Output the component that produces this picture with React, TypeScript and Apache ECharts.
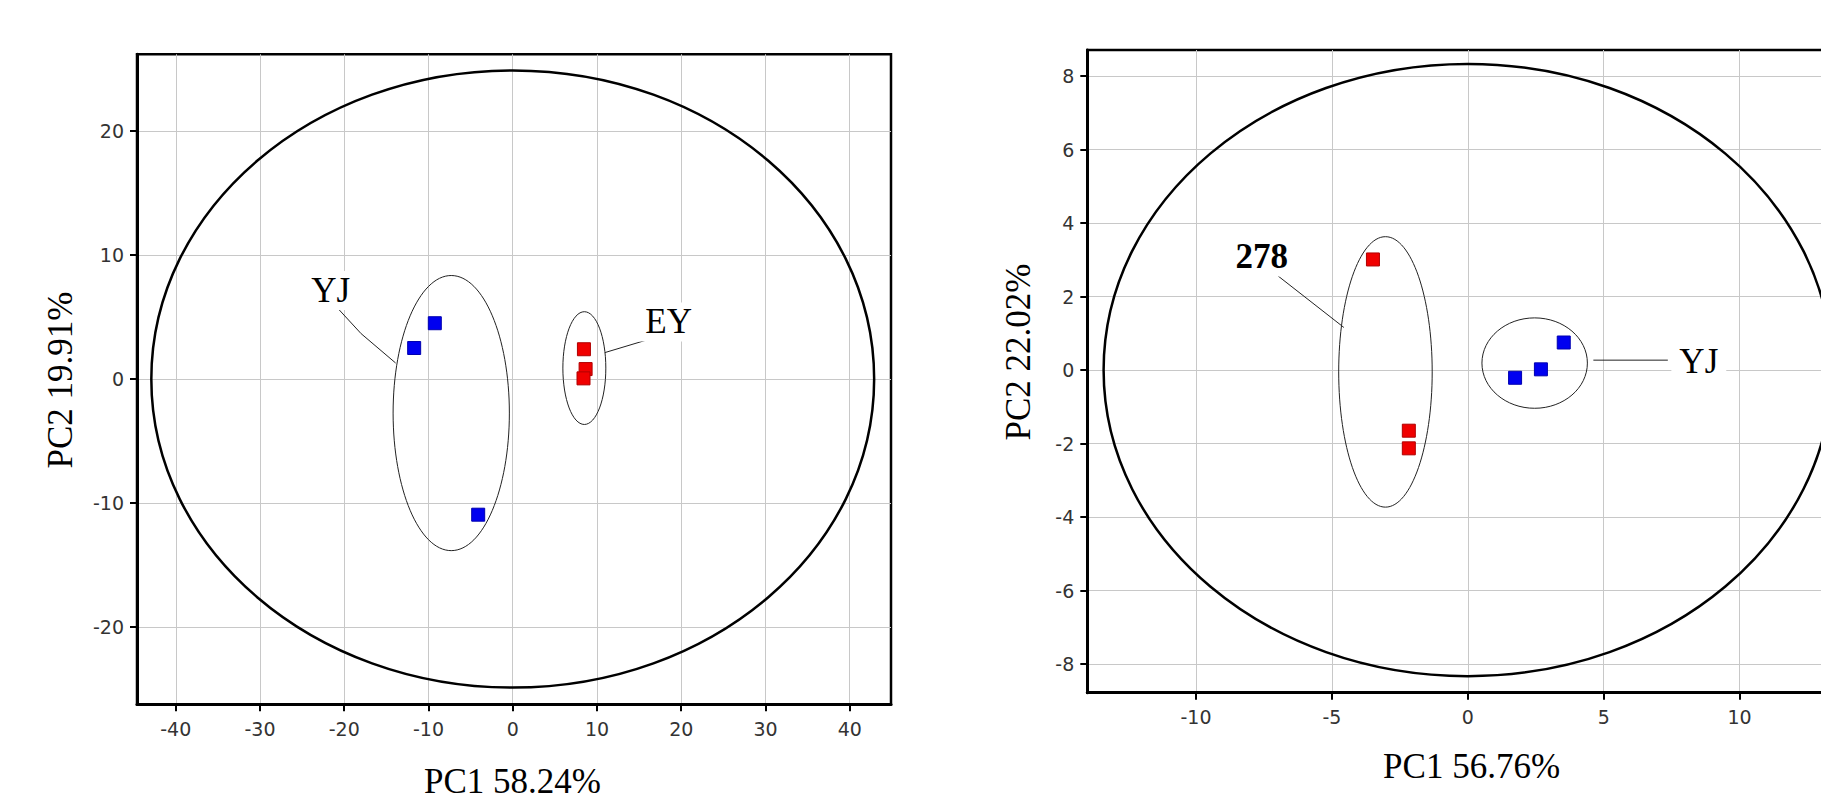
import React, { useEffect, useRef } from "react";
import * as echarts from "echarts";

// ---------- Left panel data ----------
const leftXTicks = [-40, -30, -20, -10, 0, 10, 20, 30, 40];
const leftYTicks = [-20, -10, 0, 10, 20];
const leftXRange = [-44.6, 44.9];
const leftYRange = [-26.25, 26.2];
const leftYJPoints = [[-11.7, 2.5], [-9.25, 4.5], [-4.1, -10.95]];
const leftEYPoints = [[8.45, 2.4], [8.65, 0.8], [8.4, 0.05]];
// ellipses: [centerX, centerY, radiusX, radiusY]
const leftOuterEllipse = [[0, 0, 42.9, 24.9]];
const leftGroupEllipses = [[-7.3, -2.75, 6.9, 11.1], [8.5, 0.88, 2.55, 4.55]];
const leftLabelNames = ["YJ", "EY"];
const leftLabelPos = [[-21.6, 7.15], [18.5, 4.6]];
const leftLeaders = [[-20.9, 5.8, -18.0, 3.66], [-18.0, 3.66, -13.9, 1.29], [16.17, 3.2, 10.94, 2.13]];
const leftXTitle = "PC1 58.24%";
const leftYTitle = "PC2 19.91%";

// ---------- Right panel data ----------
const rightXTicks = [-10, -5, 0, 5, 10, 15];
const rightYTicks = [-8, -6, -4, -2, 0, 2, 4, 6, 8];
const rightXRange = [-14, 14];
const rightYRange = [-8.78, 8.71];
const right278Points = [[-3.49, 3.01], [-2.17, -1.65], [-2.17, -2.13]];
const rightYJPoints = [[1.74, -0.21], [2.69, 0.02], [3.53, 0.75]];
const rightOuterEllipse = [[0, 0, 13.4, 8.33]];
const rightGroupEllipses = [[-3.03, -0.05, 1.72, 3.68], [2.46, 0.19, 1.94, 1.23]];
const rightLabelNames = ["278", "YJ"];
const rightLabelBold = [true, false];
const rightLabelPos = [[-7.58, 3.08], [8.5, 0.23]];
const rightLeaders = [[-6.98, 2.56, -4.56, 1.16], [4.62, 0.27, 7.36, 0.27]];
const rightXTitle = "PC1 56.76%";
const rightYTitle = "PC2 22.02%";

const SERIF = '"Liberation Serif", "Times New Roman", serif';
const RED = "#f00000";
const RED_BORDER = "#b00000";
const BLUE = "#0000f0";
const BLUE_BORDER = "#0000b0";

function ellipseSeries(data: number[][], idx: number, stroke: string, lw: number) {
  return {
    type: "custom",
    xAxisIndex: idx,
    yAxisIndex: idx,
    data,
    z: 2,
    silent: true,
    clip: false,
    encode: { x: 0, y: 1 },
    renderItem: (params: any, api: any) => {
      const c = api.coord([api.value(0), api.value(1)]);
      const s = api.size([api.value(2), api.value(3)]);
      return {
        type: "ellipse",
        shape: { cx: c[0], cy: c[1], rx: s[0], ry: s[1] },
        style: { fill: "none", stroke, lineWidth: lw },
      };
    },
  };
}

function leaderSeries(data: number[][], idx: number) {
  return {
    type: "custom",
    xAxisIndex: idx,
    yAxisIndex: idx,
    data,
    z: 3,
    silent: true,
    encode: { x: [0, 2], y: [1, 3] },
    renderItem: (params: any, api: any) => {
      const a = api.coord([api.value(0), api.value(1)]);
      const b = api.coord([api.value(2), api.value(3)]);
      return {
        type: "line",
        shape: { x1: a[0], y1: a[1], x2: b[0], y2: b[1] },
        style: { stroke: "#222", lineWidth: 1 },
      };
    },
  };
}

function labelSeries(pos: number[][], names: string[], bold: boolean[], idx: number) {
  return {
    type: "custom",
    xAxisIndex: idx,
    yAxisIndex: idx,
    data: pos,
    z: 4,
    silent: true,
    encode: { x: 0, y: 1 },
    renderItem: (params: any, api: any) => {
      const c = api.coord([api.value(0), api.value(1)]);
      const i = params.dataIndex;
      return {
        type: "text",
        x: c[0],
        y: c[1],
        style: {
          text: names[i],
          fontFamily: SERIF,
          fontSize: 35,
          fontWeight: bold[i] ? "bold" : "normal",
          fill: "#000",
          align: "center",
          verticalAlign: "middle",
          backgroundColor: "#fff",
          padding: [2, 8],
        },
      };
    },
  };
}

function scatter(data: number[][], idx: number, color: string, border: string) {
  return {
    type: "scatter",
    xAxisIndex: idx,
    yAxisIndex: idx,
    data,
    z: 5,
    symbol: "rect",
    symbolSize: 13,
    itemStyle: { color, borderColor: border, borderWidth: 1, opacity: 1 },
  };
}

function makeAxis(gridIndex: number, range: number[], ticks: number[], splitNumber: number, margin: number) {
  return {
    type: "value",
    gridIndex,
    min: range[0],
    max: range[1],
    splitNumber,
    axisLine: { show: true, onZero: false, lineStyle: { color: "#000", width: 3 } },
    axisTick: { show: true, length: 7, customValues: ticks, lineStyle: { color: "#000", width: 2 } },
    axisLabel: {
      customValues: ticks,
      color: "#333",
      fontFamily: '"DejaVu Sans", sans-serif',
      fontSize: 19,
      margin,
    },
    splitLine: { show: true, lineStyle: { color: "#c8c8c8", width: 1 } },
  };
}

function titleText(text: string, x: number, y: number, rotate: boolean) {
  return {
    type: "text",
    x,
    y,
    rotation: rotate ? Math.PI / 2 : 0,
    silent: true,
    style: {
      text,
      fontFamily: SERIF,
      fontSize: 35,
      fill: "#000",
      align: "center",
      verticalAlign: "middle",
    },
  };
}

export default function App() {
  const ref = useRef<HTMLDivElement>(null);
  useEffect(() => {
    if (!ref.current) return;
    const chart = echarts.init(ref.current, undefined, { renderer: "svg" });
    chart.setOption({
      animation: false,
      backgroundColor: "#fff",
      grid: [
        { left: 137, top: 54.3, width: 754, height: 650, show: true, borderColor: "#000", borderWidth: 2.5, backgroundColor: "transparent" },
        { left: 1087.3, top: 50, width: 761, height: 642.7, show: true, borderColor: "#000", borderWidth: 2.5, backgroundColor: "transparent" },
      ],
      xAxis: [
        makeAxis(0, leftXRange, leftXTicks, 9, 15),
        makeAxis(1, rightXRange, rightXTicks, 6, 15),
      ],
      yAxis: [
        makeAxis(0, leftYRange, leftYTicks, 5, 13),
        makeAxis(1, rightYRange, rightYTicks, 9, 13),
      ],
      series: [
        ellipseSeries(leftOuterEllipse, 0, "#000", 2.5),
        ellipseSeries(leftGroupEllipses, 0, "#222", 1),
        leaderSeries(leftLeaders, 0),
        labelSeries(leftLabelPos, leftLabelNames, [false, false], 0),
        scatter(leftYJPoints, 0, BLUE, BLUE_BORDER),
        scatter(leftEYPoints, 0, RED, RED_BORDER),
        ellipseSeries(rightOuterEllipse, 1, "#000", 2.5),
        ellipseSeries(rightGroupEllipses, 1, "#222", 1),
        leaderSeries(rightLeaders, 1),
        labelSeries(rightLabelPos, rightLabelNames, rightLabelBold, 1),
        scatter(right278Points, 1, RED, RED_BORDER),
        scatter(rightYJPoints, 1, BLUE, BLUE_BORDER),
      ],
      graphic: [
        titleText(leftYTitle, 60, 380, true),
        titleText(leftXTitle, 512.5, 781, false),
        titleText(rightYTitle, 1018, 352, true),
        titleText(rightXTitle, 1471.6, 766.5, false),
      ],
    });
    return () => chart.dispose();
  }, []);
  return (
    <div style={{ position: "fixed", left: 0, top: 0, width: 1821, height: 801, background: "#fff", overflow: "hidden" }}>
      <div ref={ref} style={{ position: "absolute", left: 0, top: 0, width: 1900, height: 801 }} />
    </div>
  );
}
